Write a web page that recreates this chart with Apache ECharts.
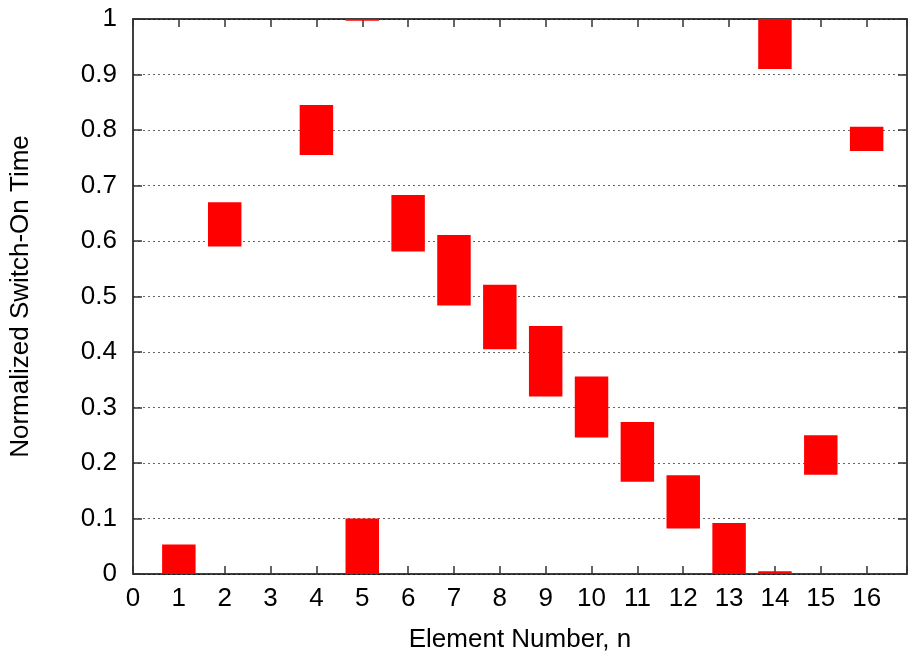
<!DOCTYPE html>
<html>
<head>
<meta charset="utf-8">
<script src="https://cdn.jsdelivr.net/npm/echarts@6/dist/echarts.min.js"></script>
<style>
html,body{margin:0;padding:0;background:#fff;}
#chart{width:910px;height:659px;}
</style>
</head>
<body>
<div id="chart"></div>
<script>
// Element number of each switch-on interval
var elements = [1, 2, 4, 5, 5, 6, 7, 8, 9, 10, 11, 12, 13, 14, 14, 15, 16];
// Normalized switch-on interval start / end
var starts = [0.000, 0.590, 0.755, 0.000, 0.997, 0.581, 0.484, 0.405, 0.320, 0.246, 0.166, 0.082, 0.000, 0.000, 0.910, 0.179, 0.762];
var ends   = [0.053, 0.670, 0.845, 0.100, 1.000, 0.683, 0.611, 0.521, 0.447, 0.356, 0.274, 0.178, 0.092, 0.005, 1.000, 0.250, 0.806];
var xTicks = [0, 1, 2, 3, 4, 5, 6, 7, 8, 9, 10, 11, 12, 13, 14, 15, 16];
var yTicks = [0, 0.1, 0.2, 0.3, 0.4, 0.5, 0.6, 0.7, 0.8, 0.9, 1];

var data = elements.map(function (e, i) { return [e, starts[i], ends[i]]; });
var font = 'Liberation Sans, Arial, Helvetica, sans-serif';
var fs = 26;

var chart = echarts.init(document.getElementById('chart'), null, {renderer: 'canvas'});
chart.setOption({
  animation: false,
  backgroundColor: '#ffffff',
  grid: {left: 132, right: 0, top: 19, bottom: 85, show: false},
  xAxis: [{
    type: 'value', min: 0, max: 16.88, interval: 1, position: 'bottom',
    name: 'Element Number, n', nameLocation: 'middle', nameGap: 53,
    nameTextStyle: {fontFamily: font, fontSize: fs, color: '#000'},
    axisLine: {show: true, onZero: false, lineStyle: {color: '#000', width: 1.5}},
    axisTick: {show: true, inside: true, length: 8, lineStyle: {color: '#333', width: 1.5}},
    axisLabel: {fontFamily: font, fontSize: fs, color: '#000', margin: 12,
      formatter: function (v) { return xTicks.indexOf(v) >= 0 ? String(v) : ''; }},
    splitLine: {show: false}
  }, {
    type: 'value', min: 0, max: 16.88, interval: 1, position: 'top',
    axisLine: {show: true, onZero: false, lineStyle: {color: '#000', width: 1.5}},
    axisTick: {show: true, inside: true, length: 8, lineStyle: {color: '#333', width: 1.5}},
    axisLabel: {show: false},
    splitLine: {show: false}
  }],
  yAxis: [{
    type: 'value', min: 0, max: 1, interval: 0.1, position: 'left',
    name: 'Normalized Switch-On Time', nameLocation: 'middle', nameGap: 99,
    nameTextStyle: {fontFamily: font, fontSize: fs, color: '#000'},
    axisLine: {show: true, onZero: false, lineStyle: {color: '#000', width: 1.5}},
    axisTick: {show: true, inside: true, length: 9, lineStyle: {color: '#333', width: 1.5}},
    axisLabel: {fontFamily: font, fontSize: fs, color: '#000', margin: 16,
      formatter: function (v) {
        for (var i = 0; i < yTicks.length; i++) { if (Math.abs(yTicks[i] - v) < 1e-9) return String(yTicks[i]); }
        return '';
      }},
    splitLine: {show: true, lineStyle: {color: '#666', width: 1.2, type: [2, 3]}}
  }, {
    type: 'value', min: 0, max: 1, interval: 0.1, position: 'right',
    axisLine: {show: true, onZero: false, lineStyle: {color: '#000', width: 1.5}},
    axisTick: {show: true, inside: true, length: 9, lineStyle: {color: '#333', width: 1.5}},
    axisLabel: {show: false},
    splitLine: {show: false}
  }],
  series: [{
    type: 'custom',
    xAxisIndex: 0, yAxisIndex: 0,
    data: data,
    renderItem: function (params, api) {
      var x = api.value(0);
      var p0 = api.coord([x, api.value(1)]);
      var p1 = api.coord([x, api.value(2)]);
      var w = api.size([0.73, 0])[0];
      return {
        type: 'rect',
        shape: {x: p0[0] - w / 2, y: p1[1], width: w, height: Math.max(p0[1] - p1[1], 1)},
        style: {fill: '#ff0000'}
      };
    },
    z: 3
  }]
});
</script>
</body>
</html>
